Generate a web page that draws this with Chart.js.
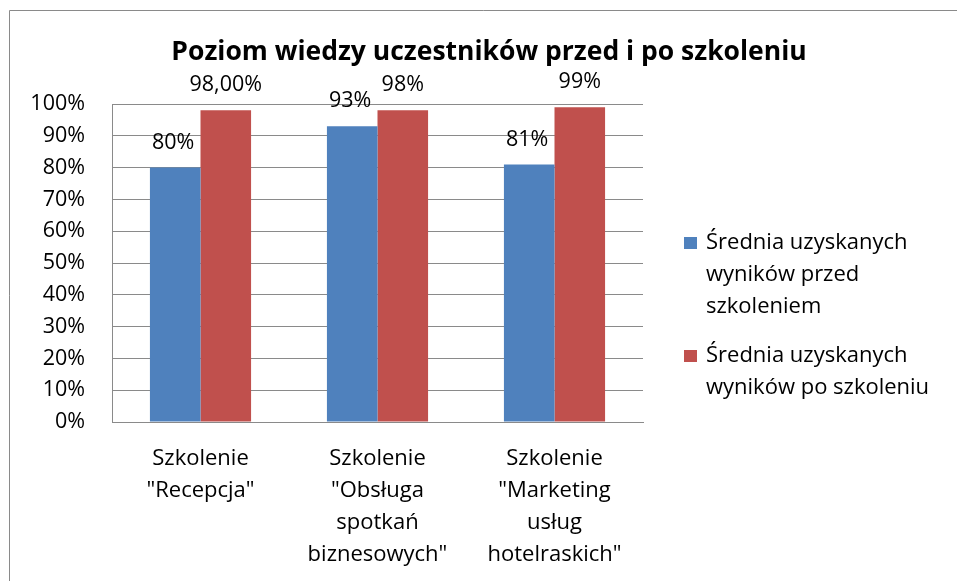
<!DOCTYPE html>
<html><head><meta charset="utf-8">
<script src="https://cdn.jsdelivr.net/npm/chart.js@4"></script>
<style>html,body{margin:0;padding:0;background:#fff;}#wrap{width:957px;height:581px;position:relative}</style>
</head><body><div id="wrap"><canvas id="c" width="957" height="581"></canvas></div>
<script>
const chartTitle = 'Poziom wiedzy uczestników przed i po szkoleniu';
const categories = [
  ['Szkolenie', '"Recepcja"'],
  ['Szkolenie', '"Obsługa', 'spotkań', 'biznesowych"'],
  ['Szkolenie', '"Marketing', 'usług', 'hotelraskich"']
];
const seriesNames = [
  ['Średnia uzyskanych', 'wyników przed', 'szkoleniem'],
  ['Średnia uzyskanych', 'wyników po szkoleniu']
];
const beforeValues = [80, 93, 81];
const afterValues = [98, 98, 99];
const beforeLabels = ['80%', '93%', '81%'];
const afterLabels = ['98,00%', '98%', '99%'];
const yTickValues = [0, 10, 20, 30, 40, 50, 60, 70, 80, 90, 100];

const FONT = '"Open Sans"';
const GRID = '#8a8a8a';
const COLORS = ['#4F81BD', '#C0504D'];

const overlay = {
  id: 'overlay',
  afterDraw(chart) {
    const ctx = chart.ctx;
    ctx.save();
    ctx.strokeStyle = GRID; ctx.lineWidth = 1;
    ctx.beginPath(); ctx.moveTo(9.5, 581); ctx.lineTo(9.5, 10.5); ctx.lineTo(957, 10.5); ctx.stroke();
    ctx.fillStyle = '#000';
    ctx.font = 'bold 26.5px ' + FONT;
    ctx.textAlign = 'center'; ctx.textBaseline = 'middle';
    ctx.fillText(chartTitle, 489, 52);
    ctx.font = '21.5px ' + FONT;
    const lbls = [beforeLabels, afterLabels];
    chart.data.datasets.forEach((ds, di) => {
      chart.getDatasetMeta(di).data.forEach((bar, i) => {
        ctx.fillText(lbls[di][i], bar.x - (di === 0 ? 2 : 0), bar.y - 25);
      });
    });
    ctx.textAlign = 'left';
    ctx.font = '22px ' + FONT;
    let y = 243;
    seriesNames.forEach((lines, si) => {
      ctx.fillStyle = COLORS[si];
      ctx.fillRect(684, y - 6, 13, 12);
      ctx.fillStyle = '#000';
      lines.forEach((ln, li) => { ctx.fillText(ln, 706, y + li * 32); });
      y += lines.length * 32 + 17;
    });
    ctx.restore();
  }
};

new Chart(document.getElementById('c'), {
  type: 'bar',
  data: {
    labels: categories,
    datasets: [
      { label: seriesNames[0].join(' '), data: beforeValues, backgroundColor: COLORS[0] },
      { label: seriesNames[1].join(' '), data: afterValues, backgroundColor: COLORS[1] }
    ]
  },
  options: {
    responsive: false, animation: false, devicePixelRatio: 1,
    layout: { padding: { left: 0, right: 314, top: 104, bottom: 0 } },
    datasets: { bar: { categoryPercentage: 2 / 3.5, barPercentage: 1 } },
    plugins: { legend: { display: false }, title: { display: false }, tooltip: { enabled: false } },
    scales: {
      x: {
        grid: { display: true, drawOnChartArea: false, drawTicks: false },
        border: { display: true, color: GRID },
        ticks: { color: '#000', padding: 21, font: { family: FONT, size: 22, lineHeight: '32px' }, maxRotation: 0, autoSkip: false },
        afterFit(s) { s.height = 159; }
      },
      y: {
        min: 0, max: 100,
        afterBuildTicks(s) { s.ticks = yTickValues.map(v => ({ value: v })); },
        grid: { color: GRID, drawTicks: false },
        border: { display: true, color: GRID },
        ticks: { color: '#000', padding: 27, font: { family: FONT, size: 21.5 }, callback: v => v + '%' },
        afterFit(s) { s.width = 112; }
      }
    }
  },
  plugins: [overlay]
});
</script></body></html>
